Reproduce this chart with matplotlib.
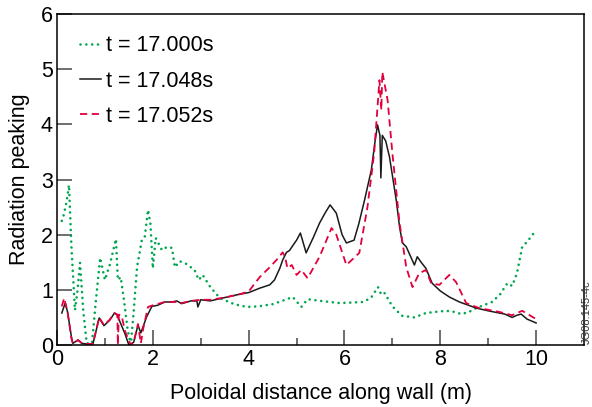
import numpy as np
import matplotlib.pyplot as plt

plt.rcParams['font.family'] = ['Liberation Sans', 'DejaVu Sans']

# t = 17.000s (green dotted)
x_a = [0.1, 0.125, 0.2, 0.25, 0.3, 0.375, 0.43, 0.48, 0.55, 0.62, 0.73, 0.8, 0.9, 1.0,
       1.1, 1.23, 1.27, 1.33, 1.4, 1.47, 1.54, 1.6, 1.67, 1.77, 1.83, 1.9, 1.95, 2.0,
       2.06, 2.19, 2.3, 2.4, 2.46, 2.56, 2.7, 2.87, 2.96, 3.04, 3.2, 3.4, 3.7, 3.96,
       4.2, 4.5, 4.7, 4.92, 5.1, 5.23, 5.5, 5.9, 6.15, 6.38, 6.55, 6.7, 6.77, 6.84,
       7.0, 7.2, 7.46, 7.7, 7.9, 8.12, 8.3, 8.44, 8.6, 8.75, 8.9, 9.08, 9.25, 9.4,
       9.5, 9.6, 9.71, 9.81, 9.9, 10.0]
y_a = [2.25, 2.3, 2.6, 2.9, 1.8, 0.63, 1.0, 1.49, 0.6, 0.03, 0.03, 0.7, 1.58, 1.18,
       1.45, 1.92, 1.18, 1.23, 0.8, 0.3, 0.0, 0.6, 1.41, 1.9, 1.95, 2.45, 2.2, 1.39,
       1.94, 1.72, 1.78, 1.76, 1.41, 1.52, 1.47, 1.36, 1.18, 1.27, 1.05, 0.85, 0.74, 0.69,
       0.7, 0.74, 0.8, 0.87, 0.69, 0.83, 0.8, 0.76, 0.77, 0.78, 0.85, 1.05, 0.91, 0.94,
       0.7, 0.53, 0.5, 0.58, 0.6, 0.62, 0.6, 0.56, 0.6, 0.67, 0.72, 0.78, 0.92, 1.12,
       1.07, 1.3, 1.78, 1.87, 1.97, 2.08]

# t = 17.048s (black solid)
x_b = [0.1, 0.17, 0.22, 0.3, 0.33, 0.44, 0.52, 0.6, 0.75, 0.88, 0.98, 1.1, 1.2, 1.25,
       1.3, 1.42, 1.5, 1.6, 1.69, 1.75, 1.87, 1.98, 2.1, 2.25, 2.4, 2.5, 2.6, 2.8,
       2.92, 2.94, 3.0, 3.2, 3.5, 3.81, 4.0, 4.23, 4.44, 4.54, 4.65, 4.71, 4.79, 4.85,
       4.92, 5.0, 5.08, 5.2, 5.35, 5.48, 5.6, 5.7, 5.83, 5.95, 6.04, 6.2, 6.3, 6.42,
       6.56, 6.64, 6.69, 6.74, 6.76, 6.79, 6.86, 6.94, 7.08, 7.15, 7.21, 7.29, 7.46,
       7.52, 7.6, 7.7, 7.83, 8.0, 8.19, 8.4, 8.75, 9.0, 9.23, 9.35, 9.5, 9.6, 9.69,
       9.81, 10.0]
y_b = [0.58, 0.76, 0.6, 0.15, 0.03, 0.09, 0.03, 0.02, 0.02, 0.49, 0.35, 0.45, 0.58, 0.55,
       0.45, 0.2, 0.0, 0.05, 0.36, 0.22, 0.51, 0.7, 0.72, 0.78, 0.78, 0.8, 0.75, 0.8,
       0.8, 0.69, 0.82, 0.8, 0.86, 0.92, 0.95, 1.03, 1.09, 1.18, 1.39, 1.54, 1.68, 1.71,
       1.8, 1.9, 2.03, 1.67, 1.95, 2.21, 2.4, 2.54, 2.39, 2.0, 1.85, 1.9, 2.2, 2.63,
       3.17, 3.7, 3.99, 3.8, 3.03, 3.8, 3.7, 3.41, 2.63, 2.14, 1.85, 1.78, 1.45,
       1.6, 1.5, 1.39, 1.12, 0.98, 0.87, 0.78, 0.67, 0.62, 0.58, 0.56, 0.5, 0.54, 0.56,
       0.47, 0.4]

# t = 17.052s (red dashed)
x_c = [0.1, 0.15, 0.22, 0.3, 0.33, 0.44, 0.52, 0.6, 0.75, 0.88, 0.98, 1.1, 1.2, 1.26,
       1.27, 1.29, 1.35, 1.42, 1.54, 1.6, 1.69, 1.75, 1.8, 1.9, 2.0, 2.25, 2.5, 2.6,
       2.8, 3.0, 3.2, 3.5, 3.81, 4.0, 4.23, 4.44, 4.58, 4.71, 4.76, 4.81, 4.9, 5.0,
       5.1, 5.23, 5.48, 5.73, 5.83, 6.04, 6.31, 6.48, 6.62, 6.73, 6.77, 6.79, 6.9,
       7.0, 7.15, 7.29, 7.42, 7.56, 7.7, 7.81, 7.98, 8.19, 8.33, 8.54, 8.81, 9.23,
       9.5, 9.71, 10.0]
y_c = [0.7, 0.85, 0.6, 0.12, 0.03, 0.09, 0.03, 0.02, 0.02, 0.5, 0.36, 0.46, 0.58, 0.55,
       0.0, 0.55, 0.53, 0.25, 0.0, 0.05, 0.38, 0.03, 0.3, 0.69, 0.72, 0.78, 0.78, 0.76,
       0.8, 0.82, 0.82, 0.86, 0.92, 0.97, 1.23, 1.41, 1.54, 1.68, 1.6, 1.39, 1.45, 1.27,
       1.36, 1.21, 1.6, 2.12, 2.0, 1.45, 1.67, 2.5, 3.48, 4.8, 4.26, 4.95, 4.44,
       3.48, 2.21, 1.41, 1.05, 1.3, 1.36, 1.12, 1.09, 1.27, 1.14, 0.76, 0.67, 0.6,
       0.54, 0.62, 0.47]

fig = plt.figure(figsize=(5.92, 4.07), dpi=100)
ax = fig.add_axes([0.0963, 0.1523, 0.8902, 0.8133])

ax.plot(x_a, y_a, color='#00a651', linestyle=(0, (0.01, 2.2)), linewidth=1.9,
        dash_capstyle='round', label='t = 17.000s')
ax.plot(x_b, y_b, color='#1a1a1a', linewidth=1.1, label='t = 17.048s')
ax.plot(x_c, y_c, color='#e2003c', linestyle=(0, (4, 2.5)), linewidth=1.3,
        label='t = 17.052s')

ax.set_xlim(0, 11)
ax.set_ylim(0, 6)
ax.set_xticks([0, 2, 4, 6, 8, 10])
ax.set_xticks([1, 3, 5, 7, 9], minor=True)
ax.set_yticks([0, 1, 2, 3, 4, 5, 6])
ax.tick_params(axis='both', which='major', direction='in', length=11, width=1.2,
               color='#555555', labelsize=15.5, pad=3)
ax.tick_params(axis='x', which='minor', direction='in', length=5, width=1.2,
               color='#555555')
for s in ax.spines.values():
    s.set_linewidth(1.1)

ax.set_xlabel('Poloidal distance along wall (m)', fontsize=15.5, labelpad=9)
ax.set_ylabel('Radiation peaking', fontsize=15.5, labelpad=8)

ax.legend(loc='upper left', frameon=False, fontsize=15.5, handlelength=0.95,
          handletextpad=0.25, labelspacing=0.67, borderpad=0, borderaxespad=0,
          bbox_to_anchor=(0.044, 0.936))

fig.text(0.999, 0.155, 'JG08.145-4c', rotation=90, fontsize=8,
         ha='right', va='bottom', color='#333333')

fig.savefig('out.png', dpi=100)
